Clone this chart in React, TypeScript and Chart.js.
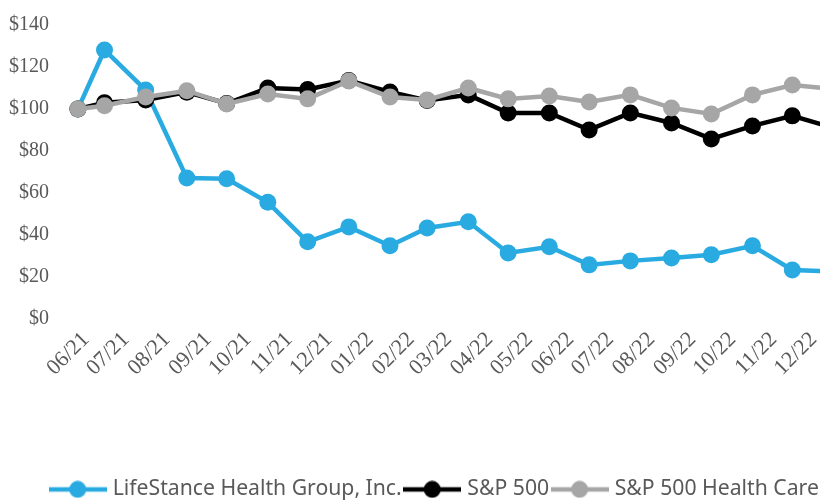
import React, { useEffect, useRef } from "react";
import { Chart, registerables } from "chart.js";

Chart.register(...registerables);

const seriesNames = ["LifeStance Health Group, Inc.", "S&P 500", "S&P 500 Health Care"];
const seriesColors = ["#29ABE2", "#000000", "#A6A6A6"];

const dates = [
  "2021-06-10", "2021-06-30", "2021-07-31", "2021-08-31", "2021-09-30", "2021-10-31",
  "2021-11-30", "2021-12-31", "2022-01-31", "2022-02-28", "2022-03-31", "2022-04-30",
  "2022-05-31", "2022-06-30", "2022-07-31", "2022-08-31", "2022-09-30", "2022-10-31",
  "2022-11-30", "2022-12-31",
];

const lifeStance = [100, 128.1, 109.0, 67.1, 66.7, 55.5, 36.7, 43.8, 34.8, 43.3, 46.2, 31.4, 34.3, 25.7, 27.6, 29.0, 30.5, 34.8, 23.3, 22.5];
const sp500 = [100, 103.0, 104.3, 108.0, 102.6, 110.0, 109.3, 113.5, 108.1, 104.0, 106.7, 98.1, 98.1, 90.0, 98.1, 93.3, 85.7, 91.9, 96.7, 91.0];
const spHealthCare = [100, 101.5, 105.7, 108.7, 102.4, 107.1, 104.8, 113.3, 105.7, 104.3, 110.0, 104.8, 106.2, 103.3, 106.7, 100.5, 97.6, 106.7, 111.4, 109.5];

const tickDates = [
  "2021-06-01", "2021-07-01", "2021-08-01", "2021-09-01", "2021-10-01", "2021-11-01",
  "2021-12-01", "2022-01-01", "2022-02-01", "2022-03-01", "2022-04-01", "2022-05-01",
  "2022-06-01", "2022-07-01", "2022-08-01", "2022-09-01", "2022-10-01", "2022-11-01",
  "2022-12-01",
];
const tickLabels = [
  "06/21", "07/21", "08/21", "09/21", "10/21", "11/21", "12/21", "01/22", "02/22", "03/22",
  "04/22", "05/22", "06/22", "07/22", "08/22", "09/22", "10/22", "11/22", "12/22",
];

const axisStart = "2021-06-01";
const axisEnd = "2023-01-26";

const BASE = Date.parse(axisStart);
const dayOf = (s: string) => (Date.parse(s) - BASE) / 86400000;

const SERIF = '"Liberation Serif", "Times New Roman", serif';
const SANS = '"Noto Sans", "Open Sans", sans-serif';
const TEXT = "#595959";

function legendImage(color: string) {
  const c = document.createElement("canvas");
  c.width = 58;
  c.height = 18;
  const g = c.getContext("2d")!;
  g.strokeStyle = color;
  g.lineWidth = 4.5;
  g.beginPath();
  g.moveTo(0, 9);
  g.lineTo(58, 9);
  g.stroke();
  g.fillStyle = color;
  g.beginPath();
  g.arc(29, 9, 8.5, 0, Math.PI * 2);
  g.fill();
  return c;
}

export default function App() {
  const ref = useRef<HTMLCanvasElement | null>(null);

  useEffect(() => {
    if (!ref.current) return;
    const values = [lifeStance, sp500, spHealthCare];
    const images = seriesColors.map(legendImage);
    const datasets = seriesNames.map((name, i) => ({
      label: name,
      data: dates.map((d, j) => ({ x: dayOf(d), y: values[i][j] })),
      borderColor: seriesColors[i],
      backgroundColor: seriesColors[i],
      pointBackgroundColor: seriesColors[i],
      pointBorderWidth: 0,
      pointRadius: 8.5,
      pointHoverRadius: 8.5,
      borderWidth: 4.5,
      tension: 0,
      order: 3 - i,
    }));

    const chart = new Chart(ref.current, {
      type: "line",
      data: { datasets },
      options: {
        animation: false,
        responsive: false,
        layout: { padding: { left: 4, right: 12, top: 25, bottom: 0 } },
        plugins: {
          tooltip: { enabled: false },
          legend: {
            position: "bottom",
            labels: {
              usePointStyle: true,
              pointStyleWidth: 49,
              padding: 6,
              color: TEXT,
              font: { family: SANS, size: 21.2 },
              generateLabels: () =>
                seriesNames.map((name, i) => ({
                  text: name,
                  pointStyle: images[i] as any,
                  fillStyle: seriesColors[i],
                  strokeStyle: seriesColors[i],
                  lineWidth: 0,
                  hidden: false,
                  datasetIndex: i,
                  fontColor: TEXT,
                })),
            },
          },
        },
        scales: {
          x: {
            type: "linear",
            min: dayOf(axisStart),
            max: dayOf(axisEnd),
            grid: { display: false },
            border: { display: false },
            afterBuildTicks: (s: any) => {
              s.ticks = tickDates.map((d) => ({ value: dayOf(d) }));
            },
            afterFit: (s: any) => {
              s.height = 154;
            },
            ticks: {
              autoSkip: false,
              minRotation: 45,
              maxRotation: 45,
              padding: 0,
              labelOffset: 20,
              color: TEXT,
              font: { family: SERIF, size: 22 },
              callback: (_v: any, i: number) => tickLabels[i],
            },
          },
          y: {
            min: 0,
            max: 140,
            grid: { display: false },
            border: { display: false },
            afterFit: (s: any) => {
              s.width = 62;
            },
            ticks: {
              stepSize: 20,
              padding: 9,
              color: TEXT,
              font: { family: SERIF, size: 20 },
              callback: (v: any) => "$" + v,
            },
          },
        },
      },
    });
    return () => chart.destroy();
  }, []);

  return (
    <div style={{ position: "absolute", left: 0, top: 0, width: 820, height: 500, overflow: "hidden", background: "#fff" }}>
      <canvas ref={ref} width={880} height={510} style={{ width: 880, height: 510, display: "block" }} />
    </div>
  );
}
